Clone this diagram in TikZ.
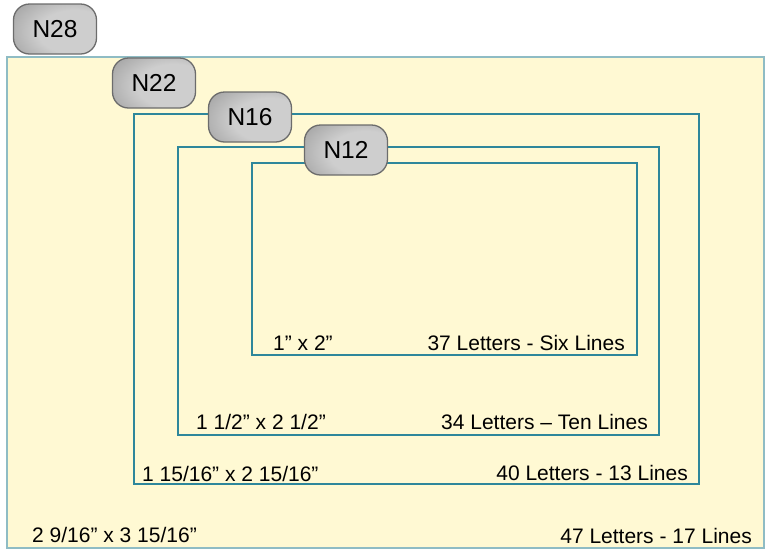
\documentclass[tikz,border=0pt]{standalone}
\usepackage{fontspec}
\setmainfont{Liberation Sans}

\definecolor{cardfill}{RGB}{255,249,211}
\definecolor{cardline}{RGB}{143,188,196}
\definecolor{boxline}{RGB}{46,135,155}
\definecolor{tagdark}{RGB}{72,72,72}
\definecolor{tagmid}{RGB}{140,140,140}
\definecolor{taglight}{RGB}{206,206,206}
\pgfdeclareradialshading{tagshade}{\pgfpoint{16bp}{-4bp}}{color(0bp)=(taglight); color(22bp)=(taglight); color(52bp)=(tagmid); color(88bp)=(tagdark)}

\tikzset{
    sizetag/.style={draw=gray!85!black, line width=1.3pt, rounded corners=16pt,
        minimum width=83pt, minimum height=50pt, inner sep=0pt,
        shading=tagshade, font=\fontsize{24.5}{28}\selectfont},
    sizebox/.style={draw=boxline, line width=1.6pt},
    sizeleft/.style={font=\fontsize{21}{24}\selectfont, inner sep=0pt, anchor=base west},
    sizeright/.style={font=\fontsize{21}{24}\selectfont, inner sep=0pt, anchor=base east}
}

\begin{document}
\begin{tikzpicture}[x=1pt, y=-1pt]
        \useasboundingbox (0,0) rectangle (767,550);

        % Card N28
        \draw[fill=cardfill, draw=cardline, line width=1.2pt] (7,57) rectangle (764,548);
        \node[sizeleft] (l28) at (32,542) {2 9/16” x 3 15/16”};
        \node[sizeright] (r28) at (752,543) {47 Letters - 17 Lines};

        % Card N16
        \draw[sizebox] (134,114) rectangle (699,484);
        \node[sizeleft] (l16) at (142,481) {1 15/16” x 2 15/16”};
        \node[sizeright] (r16) at (688,480) {40 Letters - 13 Lines};

        % Card N12
        \draw[sizebox] (178,147) rectangle (659,435);
        \node[sizeleft] (l12) at (196,429) {1 1/2” x 2 1/2”};
        \node[sizeright] (r12) at (648,429) {34 Letters – Ten Lines};

        % Smallest card
        \draw[sizebox] (252,163) rectangle (637,355);
        \node[sizeleft] (l1) at (273,350) {1” x 2”};
        \node[sizeright] (r1) at (625,350) {37 Letters - Six Lines};

        % Size tags
        \node[sizetag] (n28) at (55,29) {N28};
        \node[sizetag] (n22) at (154,83) {N22};
        \node[sizetag] (n16) at (250,117) {N16};
        \node[sizetag] (n12) at (346,150) {N12};

\end{tikzpicture}
\end{document}
